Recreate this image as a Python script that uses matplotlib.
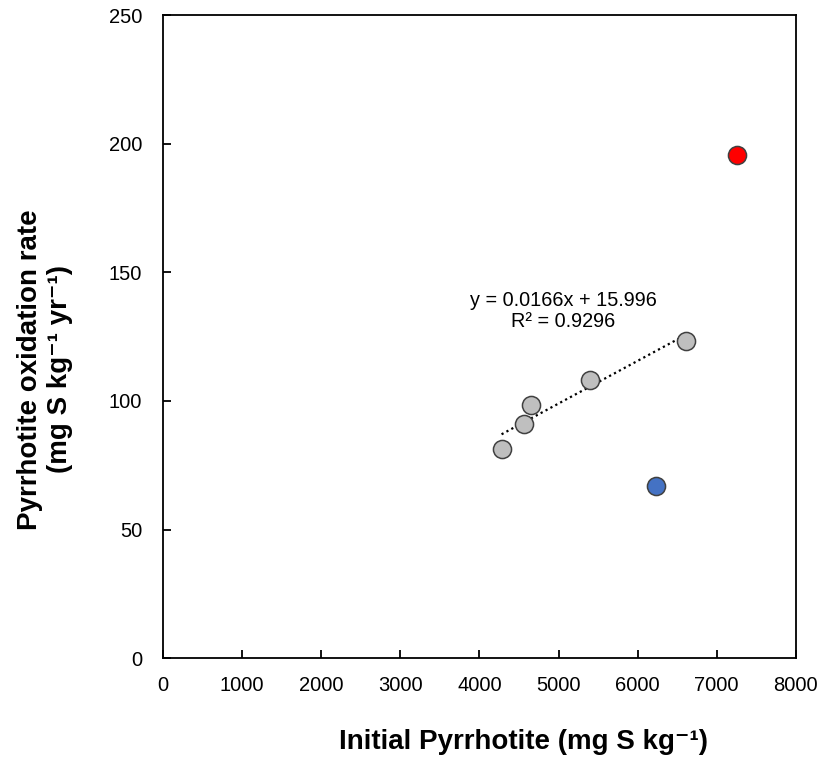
from matplotlib import pyplot as plt
import numpy as np

plt.rcParams['font.family'] = ['Liberation Sans', 'DejaVu Sans']

# gray samples (used in the fit)
pyrrhotite = np.array([4280, 4570, 4650, 5400, 6610])
oxidation_rate = np.array([81.5, 91.0, 98.5, 108.0, 123.5])
# outliers
red_x, red_y = 7260, 195.5
blue_x, blue_y = 6230, 67.0

slope, intercept = 0.0166, 15.996
r2 = 0.9296

fig = plt.figure(figsize=(8.23, 7.6), dpi=100)
ax = fig.add_axes([0.198, 0.134, 0.769, 0.846])

x_fit = np.array([pyrrhotite.min(), pyrrhotite.max()])
ax.plot(x_fit, slope * x_fit + intercept, color='black', linestyle=(0, (1, 1.5)), linewidth=1.6, zorder=2)

ax.scatter(pyrrhotite, oxidation_rate, s=170, color='#bfbfbf', edgecolor='#404040', linewidth=1.1, zorder=3)
ax.scatter([red_x], [red_y], s=170, color='#ff0000', edgecolor='#404040', linewidth=1.1, zorder=3)
ax.scatter([blue_x], [blue_y], s=170, color='#4472c4', edgecolor='#404040', linewidth=1.1, zorder=3)

ax.text(5060, 135, f"y = {slope}x + {intercept}\nR² = {r2}", ha='center', va='center',
        fontsize=14.3, linespacing=1.1)

ax.set_xlim(0, 8000)
ax.set_ylim(0, 250)
ax.set_xticks(np.arange(0, 8001, 1000))
ax.set_yticks(np.arange(0, 251, 50))
ax.tick_params(direction='in', length=6, width=1.3, labelsize=14.5)
ax.tick_params(axis='x', pad=13)
ax.tick_params(axis='y', pad=15)
for sp in ax.spines.values():
    sp.set_linewidth(1.3)

ax.set_xlabel('Initial Pyrrhotite (mg S kg⁻¹)', fontsize=20, fontweight='bold', va='top')
ax.xaxis.set_label_coords(0.570, -0.110)
ax.set_ylabel('Pyrrhotite oxidation rate\n(mg S kg⁻¹ yr⁻¹)', fontsize=20, fontweight='bold',
              linespacing=1.2)
ax.yaxis.set_label_coords(-0.142, 0.449)

plt.savefig('out.png', dpi=100)
